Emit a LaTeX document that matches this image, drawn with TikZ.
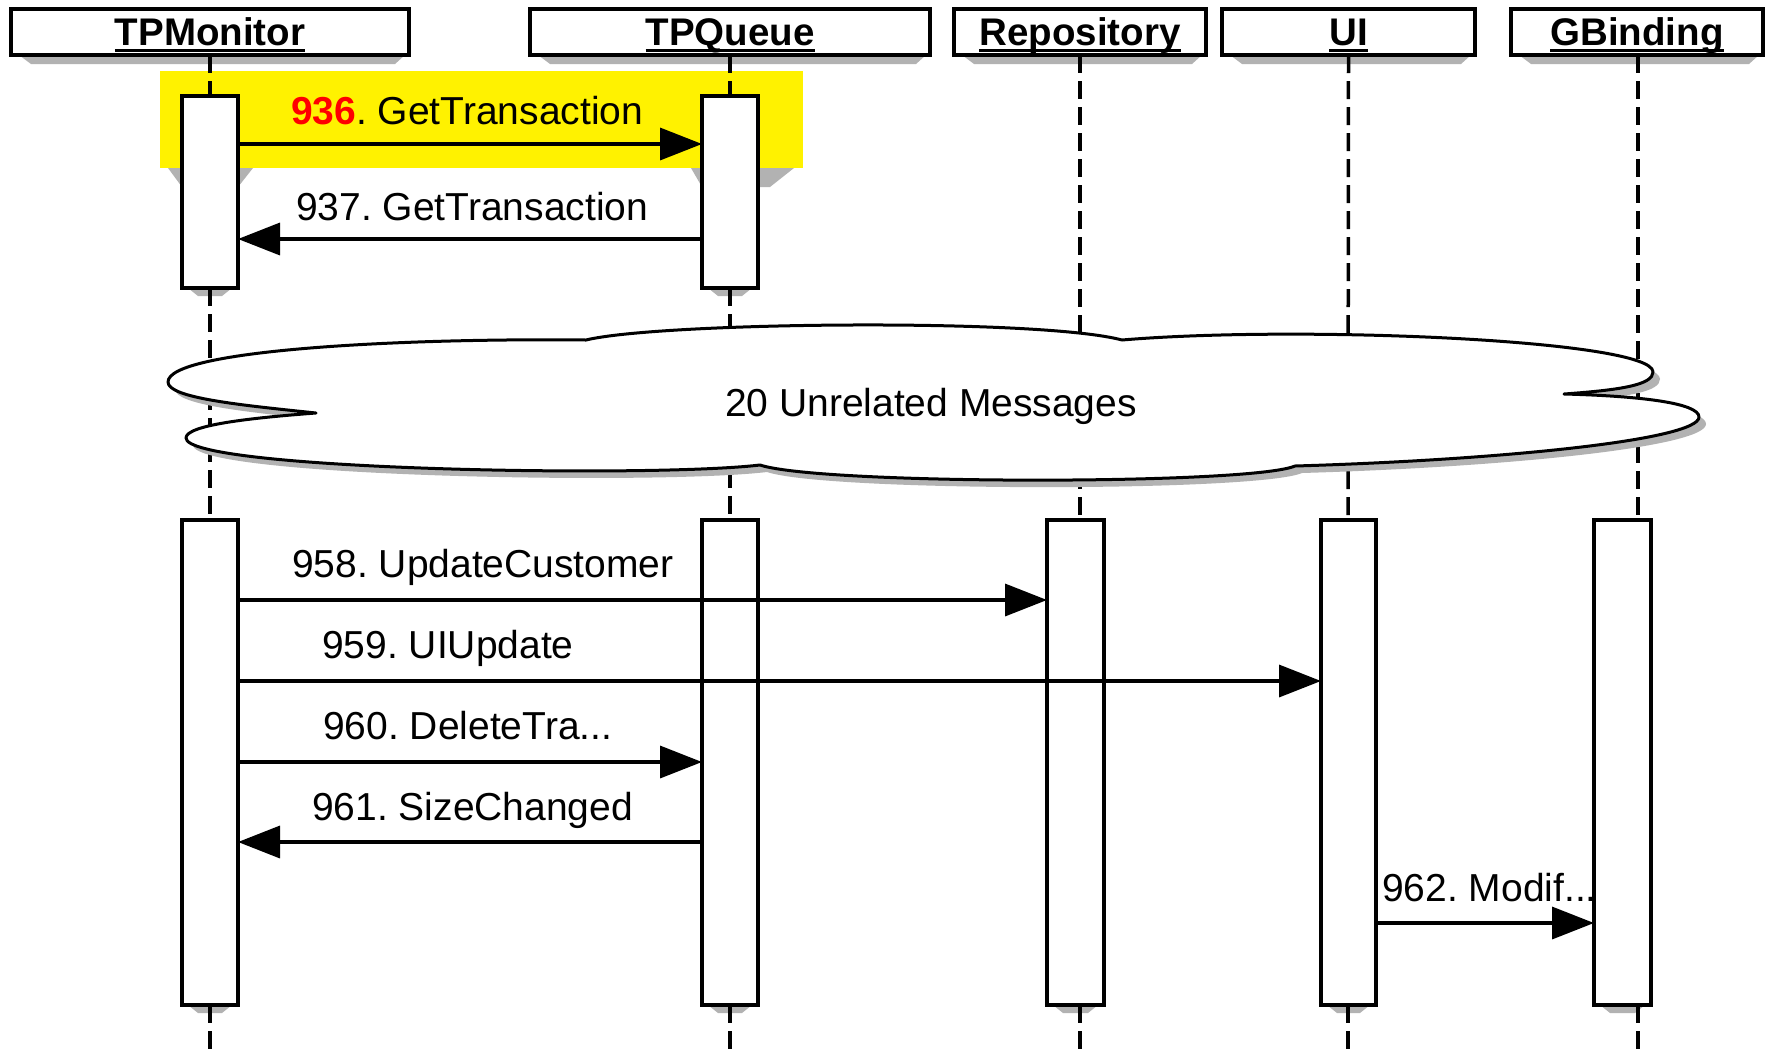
\documentclass[tikz,border=0pt]{standalone}
\usepackage{fontspec}
\setmainfont{Liberation Sans}
\usetikzlibrary{arrows.meta}
\frenchspacing
\newsavebox\hdbox
\newcommand\hdtext[1]{\sbox\hdbox{\bfseries #1}\rlap{\rule[-6pt]{\wd\hdbox}{3pt}}\usebox\hdbox}
\newcommand\mfont{\fontsize{39}{45}\selectfont}
\newcommand\hfont{\fontsize{38.5}{44}\selectfont}
\begin{document}
\begin{tikzpicture}[x=1pt,y=-1pt,
  hdr/.style={draw, line width=3.5pt, fill=white, minimum height=46pt, inner sep=0pt, outer sep=0pt, text height=27pt, text depth=0pt, font=\hfont},
  act/.style={draw, line width=3.5pt, fill=white, inner sep=0pt, outer sep=0pt},
  life/.style={line width=3.5pt, dash pattern=on 18pt off 8pt},
  msg/.style={line width=3.5pt, -{Triangle[length=42pt,width=32pt]}},
  lbl/.style={anchor=base west, inner sep=0pt, font=\mfont},
  shad/.style={fill=gray!60, draw=none}]
\useasboundingbox (0,0) rectangle (1766,1050);
\fill[white] (0,0) rectangle (1766,1050);

% highlight
\fill[yellow] (160,71) rectangle (803,168);
\fill[shad] (168,168) -- (253,168) -- (238,187) -- (182,187) -- cycle;
\fill[shad] (691,168) -- (794,168) -- (770,187) -- (702,187) -- cycle;

% header shadows
\foreach \a/\b in {11/409,530/930,954/1206,1222/1475,1511/1763}{
  \fill[shad] (\a+8,55) -- (\b-4,55) -- (\b-14,64) -- (\a+20,64) -- cycle;}
% activation shadows
\foreach \a/\b in {182/238,702/758}{
  \fill[shad] (\a+6,288) -- (\b-6,288) -- (\b-16,296) -- (\a+16,296) -- cycle;}
\foreach \a/\b in {182/238,702/758,1047/1104,1321/1376,1594/1651}{
  \fill[shad] (\a+6,1005) -- (\b-6,1005) -- (\b-16,1013) -- (\a+16,1013) -- cycle;}

% headers
\node[hdr, minimum width=398pt] (hmon) at (210,32) {\hdtext{TPMonitor}};
\node[hdr, minimum width=400pt] (hque) at (730,32) {\hdtext{TPQueue}};
\node[hdr, minimum width=252pt] (hrep) at (1080,32) {\hdtext{Repository}};
\node[hdr, minimum width=253pt] (hui) at (1348.5,32) {\hdtext{UI}};
\node[hdr, minimum width=252pt] (hgb) at (1637,32) {\hdtext{GBinding}};

\path (210,192) coordinate (cmon1) (730,192) coordinate (cque1);
\coordinate (bmon) at (210,1050);
\coordinate (bque) at (730,1050);
\coordinate (brep) at (1080,1050);
\coordinate (bui) at (1348,1050);
\coordinate (bgb) at (1638,1050);

% lifelines
\draw[life] (hmon.south) -- (210,96);
\draw[life] (hque.south) -- (730,96);
\draw[life] (210,288) -- (210,520);
\draw[life] (730,288) -- (730,520);
\draw[life] (hrep.south) -- (1080,520);
\draw[life] (hui.south) -- (1348,520);
\draw[life] ([xshift=1pt]hgb.south) -- (1638,520);
\draw[life] (210,1005) -- (bmon);
\draw[life] (730,1005) -- (bque);
\draw[life] (1080,1005) -- (brep);
\draw[life] (1348,1005) -- (bui);
\draw[life] (1638,1005) -- (bgb);

% activation boxes
\node[act, minimum width=56pt, minimum height=192pt] (mon1) at (cmon1) {};
\node[act, minimum width=56pt, minimum height=192pt] (que1) at (cque1) {};
\node[act, minimum width=56pt, minimum height=485pt] (mon2) at (210,762.5) {};
\node[act, minimum width=56pt, minimum height=485pt] (que2) at (730,762.5) {};
\node[act, minimum width=57pt, minimum height=485pt] (rep) at (1075.5,762.5) {};
\node[act, minimum width=55pt, minimum height=485pt] (ui) at (1348.5,762.5) {};
\node[act, minimum width=57pt, minimum height=485pt] (gb) at (1622.5,762.5) {};

% cloud
\draw[line width=3pt, fill=white, line join=round,
      preaction={fill=gray!60, transform canvas={shift={(7pt,-7pt)}}}]
  (586,340) .. controls (660,322) and (1040,318) .. (1122,340)
  .. controls (1300,325) and (1653,340) .. (1653,372)
  .. controls (1653,385) and (1620,390) .. (1564,394)
  .. controls (1640,396) and (1699,403) .. (1699,417)
  .. controls (1699,440) and (1500,460) .. (1295,466)
  .. controls (1250,485) and (820,485) .. (760,465)
  .. controls (650,478) and (186,470) .. (186,438)
  .. controls (186,425) and (250,418) .. (316,413)
  .. controls (240,405) and (168,398) .. (168,382)
  .. controls (168,350) and (400,338) .. (586,340) -- cycle;
\node[font=\mfont, anchor=base, inner sep=0pt] (cloudtxt) at (931,416) {20 Unrelated Messages};

% message rows
\coordinate (m936) at (0,144);
\coordinate (m937) at (0,239);
\coordinate (m958) at (0,600);
\coordinate (m959) at (0,681);
\coordinate (m960) at (0,762);
\coordinate (m961) at (0,842);
\coordinate (m962) at (0,923);

\draw[msg] (mon1.east |- m936) -- (que1.west |- m936);
\draw[msg] (que1.west |- m937) -- (mon1.east |- m937);
\draw[msg] (mon2.east |- m958) -- (rep.west |- m958);
\draw[msg] (mon2.east |- m959) -- (ui.west |- m959);
\draw[msg] (mon2.east |- m960) -- (que2.west |- m960);
\draw[msg] (que2.west |- m961) -- (mon2.east |- m961);
\draw[msg] (ui.east |- m962) -- (gb.west |- m962);

% labels
\node[lbl] (l936) at (291,124) {{\color{red}\bfseries 936}. GetTransaction};
\node[lbl] (l937) at (296,220) {937. GetTransaction};
\node[lbl] (l958) at (292,577) {958. UpdateCustomer};
\node[lbl] (l959) at (322,658) {959. UIUpdate};
\node[lbl] (l960) at (323,739) {960. DeleteTra...};
\node[lbl] (l961) at (312,820) {961. SizeChanged};
\node[lbl] (l962) at (1382,901) {962. Modif...};
\end{tikzpicture}
\end{document}
